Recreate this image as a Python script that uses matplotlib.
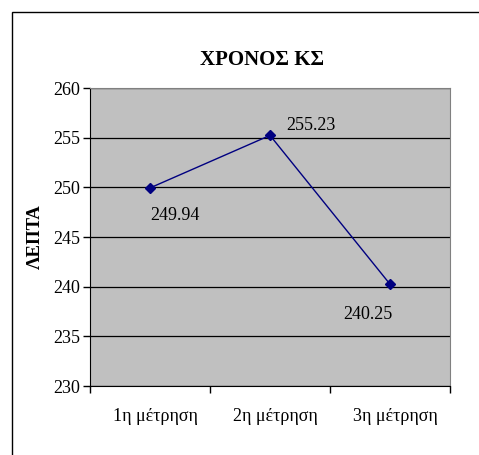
import matplotlib.pyplot as plt
import matplotlib.transforms as mtransforms
from matplotlib.patches import Rectangle

plt.rcParams['font.family'] = ['Liberation Serif', 'DejaVu Serif']

labels = ["1η μέτρηση", "2η μέτρηση", "3η μέτρηση"]
minutes = [249.94, 255.23, 240.25]

fig = plt.figure(figsize=(4.79, 4.55), dpi=100)
W, H = 479, 455

# outer chart frame
fig.patches.append(Rectangle((12 / W, -0.1), 1.2, (H - 12) / H + 0.1,
                             transform=fig.transFigure, fill=False,
                             edgecolor="black", linewidth=1.0))

ax = fig.add_axes([90 / W, 1 - 386 / H, 360 / W, (386 - 88) / H])
ax.set_facecolor("#C0C0C0")

x = range(len(minutes))
ax.plot(x, minutes, color="#000080", linewidth=1.0, marker="D",
        markersize=5.5, markerfacecolor="#000080", markeredgecolor="#000080",
        zorder=3)

# value labels: (dx, dy) in points, alignment
label_style = [((0, -14), "left", "top"),
               ((12, 3.6), "left", "baseline"),
               ((2, -16), "right", "top")]
for xi, v, ((dx, dy), ha, va) in zip(x, minutes, label_style):
    ax.annotate(f"{v:.2f}", (xi, v), xytext=(dx, dy), textcoords="offset points",
                fontsize=13, ha=ha, va=va)

ax.set_xlim(-0.5, 2.5)
ax.set_ylim(230, 260)
ax.set_yticks(range(230, 261, 5))
ax.yaxis.grid(True, color="black", linewidth=0.9)
ax.set_axisbelow(True)

# categories between tick marks
ax.set_xticks([-0.5, 0.5, 1.5, 2.5])
ax.set_xticklabels([])
ax.set_xticks(list(x), minor=True)
ax.set_xticklabels(labels, minor=True, fontsize=13)
ax.tick_params(axis="x", which="minor", length=0, pad=16)
ax.tick_params(axis="x", which="major", length=5, direction="out", width=1)
ax.tick_params(axis="y", length=5, direction="out", width=1, labelsize=13, pad=2)

# category names sit slightly right of the centre
shift = mtransforms.ScaledTranslation(4 / 72, 0, fig.dpi_scale_trans)
for lbl in ax.get_xticklabels(minor=True):
    lbl.set_transform(lbl.get_transform() + shift)

for side in ("top", "right"):
    ax.spines[side].set_color("#808080")
for side in ("left", "bottom"):
    ax.spines[side].set_color("black")

ax.set_ylabel("ΛΕΠΤΑ", fontsize=13.5, fontweight="bold", labelpad=7)
fig.text(262 / W, 1 - 60 / H, "ΧΡΟΝΟΣ ΚΣ", ha="center", va="center",
         fontsize=15, fontweight="bold")

fig.savefig("out.png", dpi=100)
